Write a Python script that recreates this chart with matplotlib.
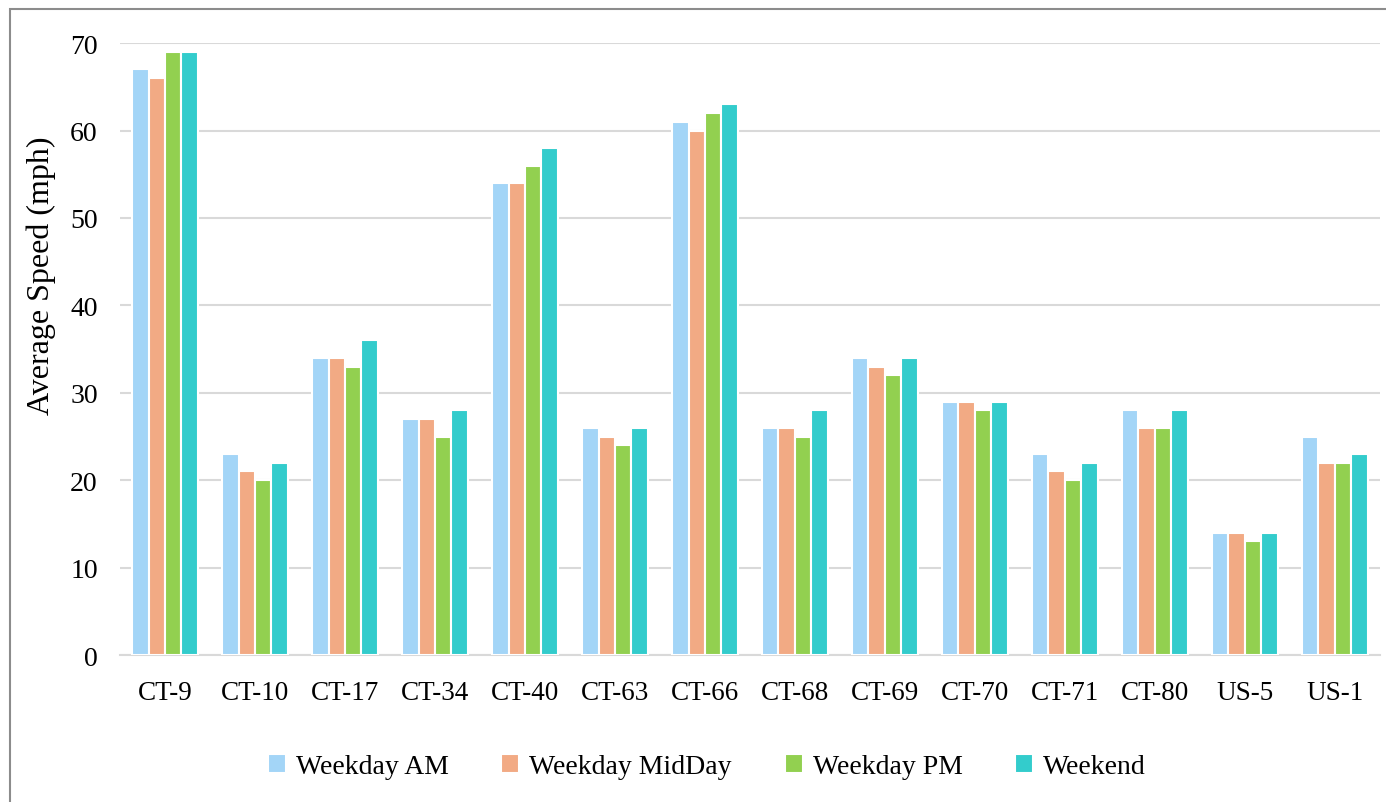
import matplotlib.pyplot as plt
import numpy as np
from matplotlib.patches import Rectangle

routes = ["CT-9", "CT-10", "CT-17", "CT-34", "CT-40", "CT-63", "CT-66",
          "CT-68", "CT-69", "CT-70", "CT-71", "CT-80", "US-5", "US-1"]
weekday_am = [67, 23, 34, 27, 54, 26, 61, 26, 34, 29, 23, 28, 14, 25]
weekday_midday = [66, 21, 34, 27, 54, 25, 60, 26, 33, 29, 21, 26, 14, 22]
weekday_pm = [69, 20, 33, 25, 56, 24, 62, 25, 32, 28, 20, 26, 13, 22]
weekend = [69, 22, 36, 28, 58, 26, 63, 28, 34, 29, 22, 28, 14, 23]

series = [
    ("Weekday AM", weekday_am, "#A3D5F7"),
    ("Weekday MidDay", weekday_midday, "#F2AA84"),
    ("Weekday PM", weekday_pm, "#92D050"),
    ("Weekend", weekend, "#33CCCC"),
]

plt.rcParams['font.family'] = ['Liberation Serif', 'DejaVu Serif']

fig = plt.figure(figsize=(13.86, 8.03), dpi=100)
ax = fig.add_axes([0.0866, 0.183, 0.909, 0.762])

x = np.arange(len(routes))
step = 0.183
for i, (name, vals, color) in enumerate(series):
    ax.bar(x + (i - 1.5) * step, vals, width=step, color=color,
           edgecolor="white", linewidth=1.5, label=name, zorder=3)

ax.set_xlim(-0.5, len(routes) - 0.5)
ax.set_ylim(0, 70)
ax.set_yticks(range(0, 71, 10))
ax.set_xticks(x)
ax.set_xticklabels(routes)
ax.grid(axis="y", color="#D9D9D9", linewidth=1.5, zorder=0)
for s in ["top", "right", "left"]:
    ax.spines[s].set_visible(False)
ax.spines["bottom"].set_color("#D9D9D9")
ax.spines["bottom"].set_linewidth(1.5)
ax.tick_params(axis="y", length=0, labelsize=20, pad=16)
ax.tick_params(axis="x", length=0, labelsize=19.5, pad=18)

ax.set_ylabel("Average Speed (mph)", fontsize=23)
ax.yaxis.set_label_coords(-0.051, 0.621)

fig.legend(loc="center", bbox_to_anchor=(0.51, 0.044), ncol=4,
           frameon=False, prop={"size": 20},
           handlelength=0.65, handleheight=0.65, handletextpad=0.36,
           columnspacing=1.9)

# Outer chart border
fig.patches.append(Rectangle((10 / 1386, -0.01), 1.1, 1 - 10 / 803 + 0.01,
                             transform=fig.transFigure, fill=False,
                             edgecolor="#8C8C8C", linewidth=1.5))

fig.savefig("out.png", dpi=100)
